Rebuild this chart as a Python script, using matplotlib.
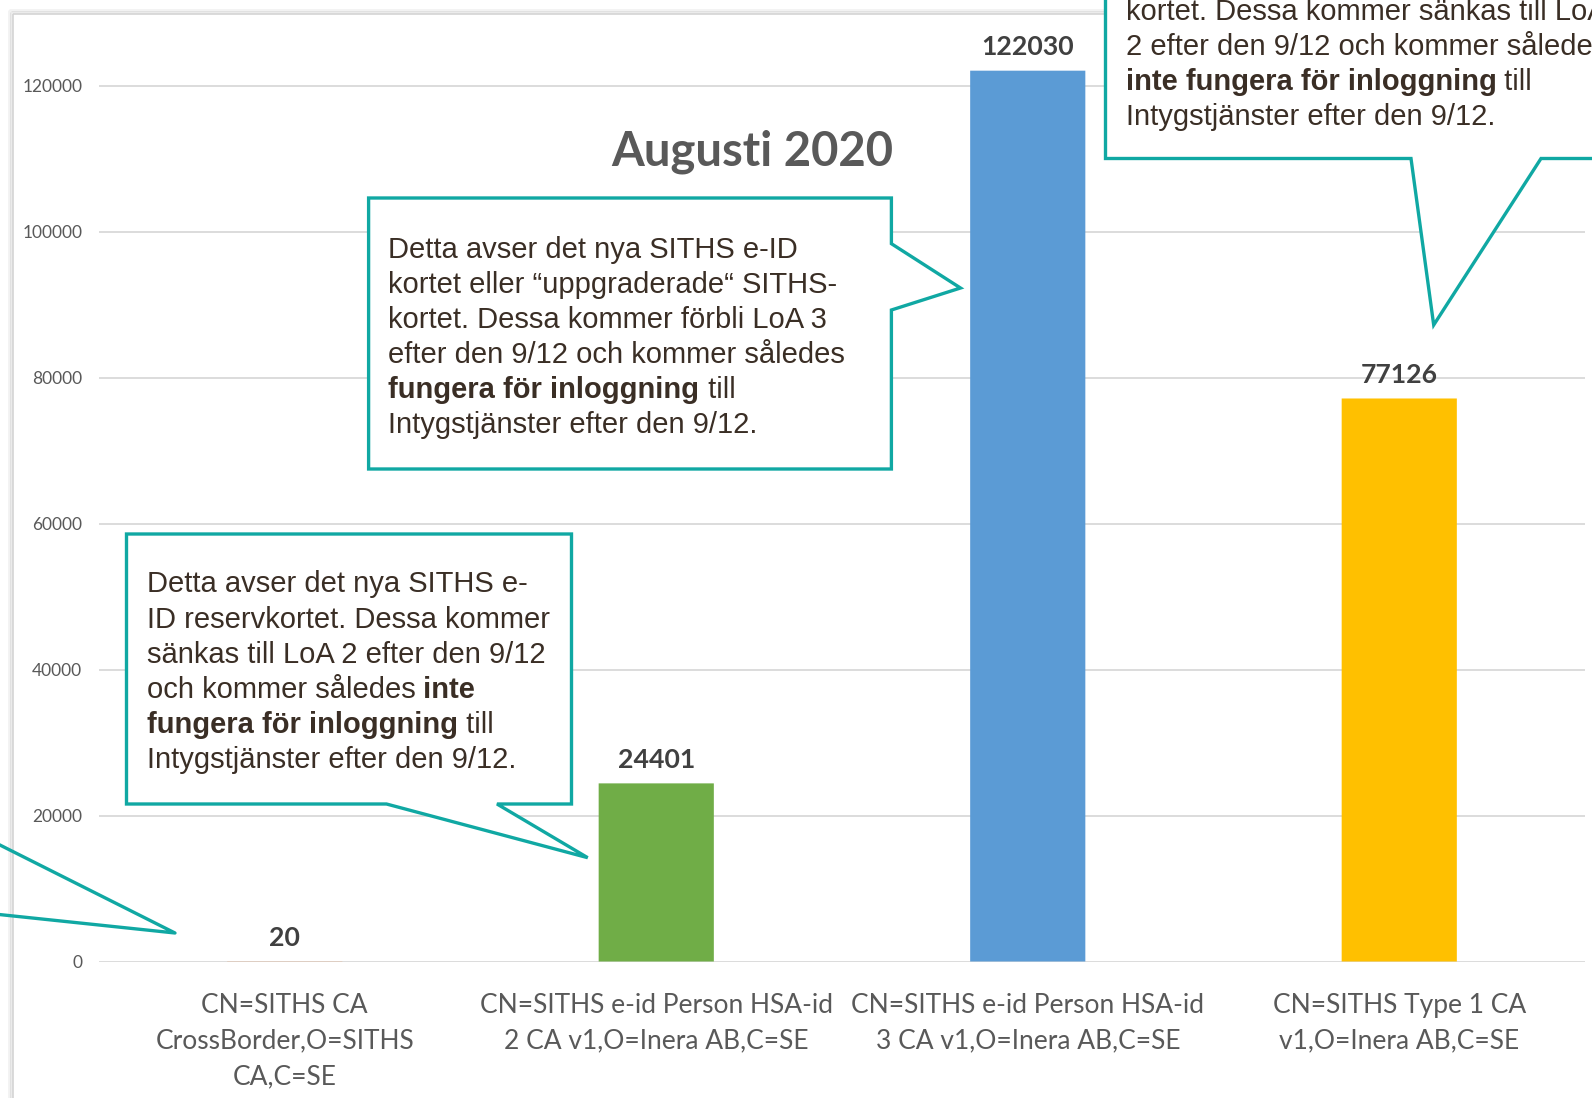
import matplotlib
matplotlib.use('Agg')
import matplotlib.pyplot as plt
import matplotlib.transforms as mtransforms
from matplotlib.patches import Polygon, Rectangle
from matplotlib.lines import Line2D
from matplotlib.font_manager import FontProperties

plt.rcParams['font.family'] = ['Lato', 'DejaVu Sans']

categories = ['CN=SITHS CA\nCrossBorder,O=SITHS\nCA,C=SE',
              'CN=SITHS e-id Person HSA-id\n2 CA v1,O=Inera AB,C=SE',
              'CN=SITHS e-id Person HSA-id\n3 CA v1,O=Inera AB,C=SE',
              'CN=SITHS Type 1 CA\nv1,O=Inera AB,C=SE']
values = [20, 24401, 122030, 77126]
bar_colors = ['#ED7D31', '#70AD47', '#5B9BD5', '#FFC000']
yticks = [0, 20000, 40000, 60000, 80000, 100000, 120000]
title = 'Augusti 2020'

# callout texts, (text, bold) segments per line
note_new = [[('Detta avser det nya SITHS e-ID', False)],
            [('kortet eller “uppgraderade“ SITHS-', False)],
            [('kortet. Dessa kommer förbli LoA 3', False)],
            [('efter den 9/12 och kommer således', False)],
            [('fungera för inloggning', True), (' till', False)],
            [('Intygstjänster efter den 9/12.', False)]]
note_reserve = [[('Detta avser det nya SITHS e-', False)],
                [('ID reservkortet. Dessa kommer', False)],
                [('sänkas till LoA 2 efter den 9/12', False)],
                [('och kommer således', False), (' inte', True)],
                [('fungera för inloggning', True), (' till', False)],
                [('Intygstjänster efter den 9/12.', False)]]
note_type1 = [[('kortet. Dessa kommer sänkas till LoA', False)],
              [('2 efter den 9/12 och kommer således', False)],
              [('inte fungera för inloggning', True), (' till', False)],
              [('Intygstjänster efter den 9/12.', False)]]

W, H = 1592, 1098
TEAL = '#10A8A3'
NOTE_COLOR = '#3A2E25'

fig = plt.figure(figsize=(W / 100, H / 100), dpi=100)
# pixel coords, origin top-left
T = mtransforms.Affine2D().scale(1 / W, -1 / H).translate(0, 1) + fig.transFigure

# slide frame with a soft shadow
for off, a in [(4, 0.05), (2, 0.08)]:
    fig.add_artist(Rectangle((13 - off, 14 - off), 1700, 1200, transform=T,
                             fill=False, edgecolor='#000000', alpha=a, lw=2))
fig.add_artist(Rectangle((13, 14), 1700, 1200, transform=T, fill=False,
                         edgecolor='#D4D4D4', lw=1.2))

ax = fig.add_axes([99 / W, 1 - 961.5 / H, 1486 / W, 919.8 / H])
ax.set_facecolor('none')
x = list(range(len(values)))
ax.bar(x, values, width=0.31, color=bar_colors, zorder=2, snap=False, lw=0)
ax.set_xlim(-0.5, 3.5)
ax.set_ylim(0, 126000)
ax.set_yticks(yticks)
ax.yaxis.grid(True, color='#D9D9D9', lw=1.3)
ax.set_axisbelow(True)
for s in ax.spines.values():
    s.set_visible(False)
ax.tick_params(axis='y', length=0, pad=12, labelsize=12.5, labelcolor='#595959')
ax.set_xticks(x, categories)
ax.tick_params(axis='x', length=0, pad=23, labelsize=19, labelcolor='#595959')
for t in ax.get_xticklabels():
    t.set_linespacing(1.51)

for i, v in enumerate(values):
    ax.annotate(f'{v}', (i, v), xytext=(0, 17), textcoords='offset points',
                ha='center', va='center', fontsize=19.2, fontweight='bold',
                color='#404040')

fig.text(752, 166, title, transform=T, ha='center', va='baseline',
         fontsize=34, fontweight='bold', color='#595959')

renderer = fig.canvas.get_renderer()


def seg_width(s, prop):
    w1 = renderer.get_text_width_height_descent(s + '|', prop, False)[0]
    w0 = renderer.get_text_width_height_descent('|', prop, False)[0]
    return w1 - w0


def draw_note(lines, x0, y0, step, size=21.0):
    for k, line in enumerate(lines):
        xx = x0
        for txt, bold in line:
            prop = FontProperties(family='Liberation Sans', size=size,
                                  weight='bold' if bold else 'normal')
            fig.text(xx, y0 + k * step, txt, transform=T, fontproperties=prop,
                     color=NOTE_COLOR, ha='left', va='baseline', zorder=7)
            xx += seg_width(txt, prop)


def callout(pts):
    fig.add_artist(Polygon(pts, closed=True, transform=T, facecolor='white',
                           edgecolor=TEAL, lw=2.4, zorder=6, joinstyle='miter'))


callout([(368.6, 198), (891.4, 198), (891.4, 243.7), (960.5, 288),
         (891.4, 310), (891.4, 469), (368.6, 469)])
draw_note(note_new, 388.5, 257.5, 35.1)

callout([(126.5, 534), (571.5, 534), (571.5, 804), (497, 804),
         (587.7, 857.7), (386.5, 804), (126.5, 804)])
draw_note(note_reserve, 146.7, 592.5, 35.2)

callout([(1105.5, -30), (1650, -30), (1650, 158.5), (1541, 158.5),
         (1433.7, 325), (1411, 158.5), (1105.5, 158.5)])
draw_note(note_type1, 1125.5, 20, 35)

# pointer of a callout whose box is outside the crop
fig.add_artist(Line2D([-20, 175, -20], [835, 933, 912.5], transform=T,
                      color=TEAL, lw=2.4, zorder=6))

fig.savefig('out.png', dpi=100)
